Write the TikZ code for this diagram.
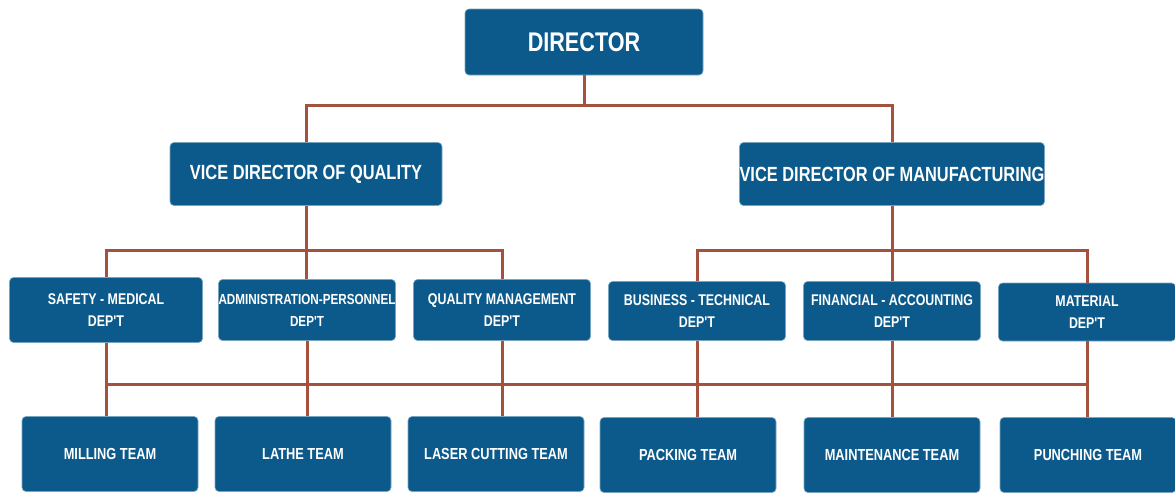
\documentclass[tikz,border=0pt]{standalone}
\usepackage{fontspec}
\usepackage{tikz}
\newfontfamily\chartfont[FakeStretch=0.8]{Liberation Sans Bold}
\definecolor{boxblue}{RGB}{12,90,139}
\definecolor{linkred}{RGB}{164,82,62}

\begin{document}
\begin{tikzpicture}[x=1pt,y=-1pt,
		unitbox/.style={rectangle,rounded corners=4pt,fill=boxblue,draw=boxblue!55!white,line width=0.6pt,
			text=white,inner sep=0pt,align=center},
		headbox/.style={unitbox,minimum width=238pt,minimum height=66pt,font=\chartfont\fontsize{27}{30}\selectfont},
		vicebox/.style={unitbox,minimum height=63pt,font=\chartfont\fontsize{20.5}{24}\selectfont},
		deptbox/.style={unitbox,minimum width=177pt,minimum height=61pt,font=\chartfont\fontsize{15.5}{22}\selectfont},
		teambox/.style={unitbox,minimum width=176pt,minimum height=75pt,font=\chartfont\fontsize{16}{18}\selectfont},
		link/.style={draw=linkred,line width=3pt}]
		\useasboundingbox (0,0) rectangle (1175,493);

		\node[headbox] (dir) at (584,42) {DIRECTOR};
		\node[vicebox,minimum width=272pt] (vdq) at (306,174) {VICE DIRECTOR OF QUALITY};
		\node[vicebox,minimum width=305pt] (vdm) at (892,174) {VICE DIRECTOR OF MANUFACTURING};

		% departments
		\node[deptbox,minimum width=193pt,minimum height=65pt] (safety) at (106,310) {SAFETY - MEDICAL\\DEP'T};
		\node[deptbox,font=\chartfont\fontsize{14.6}{22}\selectfont] (admin) at (307,310) {ADMINISTRATION-PERSONNEL\\DEP'T};
		\node[deptbox] (qman) at (502,310) {QUALITY MANAGEMENT\\DEP'T};
		\node[deptbox,minimum height=59pt] (busi) at (697,311) {BUSINESS - TECHNICAL\\DEP'T};
		\node[deptbox,minimum height=59pt] (fina) at (892,311) {FINANCIAL - ACCOUNTING\\DEP'T};
		\node[deptbox,minimum height=58pt] (mate) at (1087,312) {MATERIAL\\DEP'T};

		% teams
		\node[teambox] (mill) at (110,454) {MILLING TEAM};
		\node[teambox] (lathe) at (303,454) {LATHE TEAM};
		\node[teambox] (laser) at (496,454) {LASER CUTTING TEAM};
		\node[teambox] (pack) at (688,455) {PACKING TEAM};
		\node[teambox] (maint) at (892,455) {MAINTENANCE TEAM};
		\node[teambox] (punch) at (1088,455) {PUNCHING TEAM};

		\coordinate (j0) at (dir.south |- 0,105);
		\coordinate (j1) at (vdq.south |- 0,250);
		\coordinate (j2) at (vdm.south |- 0,250);
		\coordinate (bus) at (0,384);

		\path[link] (dir.south) -- (j0);
		\path[link] (vdq.north) |- (j0) -| (vdm.north);
		\path[link] (vdq.south) -- (j1);
		\path[link] (safety.north) |- (j1) -| (qman.north);
		\path[link] (j1) -- (j1 |- admin.north);
		\path[link] (vdm.south) -- (j2);
		\path[link] (busi.north) |- (j2) -| (mate.north);
		\path[link] (j2) -- (j2 |- fina.north);
		\path[link] (safety |- bus) -- (mate |- bus);
		\path[link] (safety.south) -- (safety.south |- mill.north);
		\path[link] (admin.south) -- (admin.south |- lathe.north);
		\path[link] (qman.south) -- (qman.south |- laser.north);
		\path[link] (busi.south) -- (busi.south |- pack.north);
		\path[link] (fina.south) -- (fina.south |- maint.north);
		\path[link] (mate.south) -- (mate.south |- punch.north);
\end{tikzpicture}
\end{document}
